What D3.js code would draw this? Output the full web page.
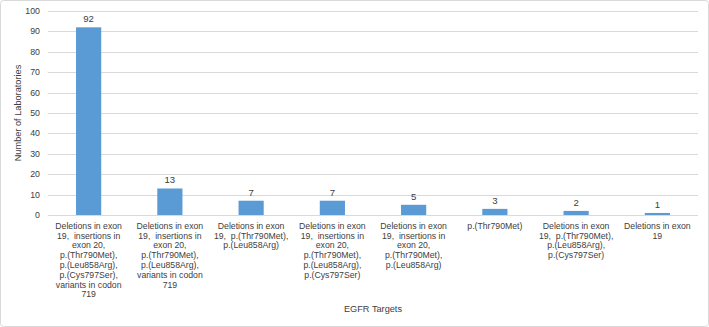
<!DOCTYPE html>
<html>
<head>
<meta charset="utf-8">
<script src="https://cdn.jsdelivr.net/npm/d3@7"></script>
<style>
  body { margin: 0; background: #fff; }
  text { font-family: "Liberation Sans", Arial, sans-serif; }
</style>
</head>
<body>
<div id="chart"></div>
<script>
// EGFR targets tested, number of laboratories
const targets = [
    "Deletions in exon 19,  insertions in exon 20, p.(Thr790Met), p.(Leu858Arg), p.(Cys797Ser), variants in codon 719",
    "Deletions in exon 19,  insertions in exon 20, p.(Thr790Met), p.(Leu858Arg), variants in codon 719",
    "Deletions in exon 19,  p.(Thr790Met), p.(Leu858Arg)",
    "Deletions in exon 19,  insertions in exon 20, p.(Thr790Met), p.(Leu858Arg), p.(Cys797Ser)",
    "Deletions in exon 19,  insertions in exon 20, p.(Thr790Met), p.(Leu858Arg)",
    "p.(Thr790Met)",
    "Deletions in exon 19,  p.(Thr790Met), p.(Leu858Arg), p.(Cys797Ser)",
    "Deletions in exon 19"
]
const labs = [92, 13, 7, 7, 5, 3, 2, 1]
const yTicks = [0, 10, 20, 30, 40, 50, 60, 70, 80, 90, 100]

const width = 709
const height = 327
const margin = {top: 11, right: 11, bottom: 112, left: 48}

const svg = d3.select("#chart").append("svg")
    .attr("width", width)
    .attr("height", height)

// outer border
svg.append("rect")
    .attr("x", 0.5).attr("y", 0.5)
    .attr("width", width - 1).attr("height", height - 1)
    .attr("rx", 3)
    .attr("fill", "#fff")
    .attr("stroke", "#d9d9d9")

const x = d3.scaleBand()
    .domain(d3.range(targets.length))
    .range([margin.left, width - margin.right])
    .paddingInner(0.69)
    .paddingOuter(0.345)

const y = d3.scaleLinear()
    .domain([0, 100])
    .range([height - margin.bottom, margin.top])

// gridlines
svg.append("g")
    .selectAll("line")
    .data(yTicks)
    .join("line")
    .attr("x1", margin.left)
    .attr("x2", width - margin.right)
    .attr("y1", d => Math.round(y(d)) + 0.5)
    .attr("y2", d => Math.round(y(d)) + 0.5)
    .attr("stroke", "#d9d9d9")

// y tick labels
svg.append("g")
    .selectAll("text")
    .data(yTicks)
    .join("text")
    .attr("x", margin.left - 8)
    .attr("y", d => y(d))
    .attr("dy", "0.35em")
    .attr("text-anchor", "end")
    .style("font-size", "8.8px")
    .style("fill", "#404040")
    .text(d => d)

// bars
svg.append("g")
    .selectAll("rect")
    .data(labs)
    .join("rect")
    .attr("x", (d, i) => x(i))
    .attr("y", d => y(d))
    .attr("width", x.bandwidth())
    .attr("height", d => y(0) - y(d))
    .attr("fill", "#5b9bd5")

// value labels
svg.append("g")
    .selectAll("text")
    .data(labs)
    .join("text")
    .attr("x", (d, i) => x(i) + x.bandwidth() / 2)
    .attr("y", d => y(d) - 5)
    .attr("text-anchor", "middle")
    .style("font-size", "9.6px")
    .style("fill", "#404040")
    .text(d => d)

// category labels, wrapped like Excel does
const wrapWidth = 76
const fontSize = 8.7
const lineH = 9.8
const catG = svg.append("g")
const measure = svg.append("text").style("font-size", fontSize + "px")

function wrap(str) {
    const words = str.split(" ")
    const lines = []
    let cur = ""
    words.forEach(w => {
        const next = cur === "" ? w : cur + " " + w
        measure.text(next)
        if (cur !== "" && measure.node().getComputedTextLength() > wrapWidth) {
            lines.push(cur)
            cur = w
        } else {
            cur = next
        }
    })
    lines.push(cur)
    return lines
}

targets.forEach((t, i) => {
    const lines = wrap(t)
    const txt = catG.append("text")
        .attr("text-anchor", "middle")
        .style("font-size", fontSize + "px")
        .style("fill", "#404040")
        .style("white-space", "pre")
    lines.forEach((l, j) => {
        txt.append("tspan")
            .attr("x", x(i) + x.bandwidth() / 2)
            .attr("y", y(0) + 13.7 + j * lineH)
            .text(l.trim())
    })
})
measure.remove()

// axis titles
svg.append("text")
    .attr("transform", `translate(21, ${(y(0) + y(100)) / 2}) rotate(-90)`)
    .attr("text-anchor", "middle")
    .style("font-size", "9.2px")
    .style("fill", "#404040")
    .text("Number of Laboratories")

svg.append("text")
    .attr("x", (margin.left + width - margin.right) / 2)
    .attr("y", 312)
    .attr("text-anchor", "middle")
    .style("font-size", "9.2px")
    .style("fill", "#404040")
    .text("EGFR Targets")
</script>
</body>
</html>
